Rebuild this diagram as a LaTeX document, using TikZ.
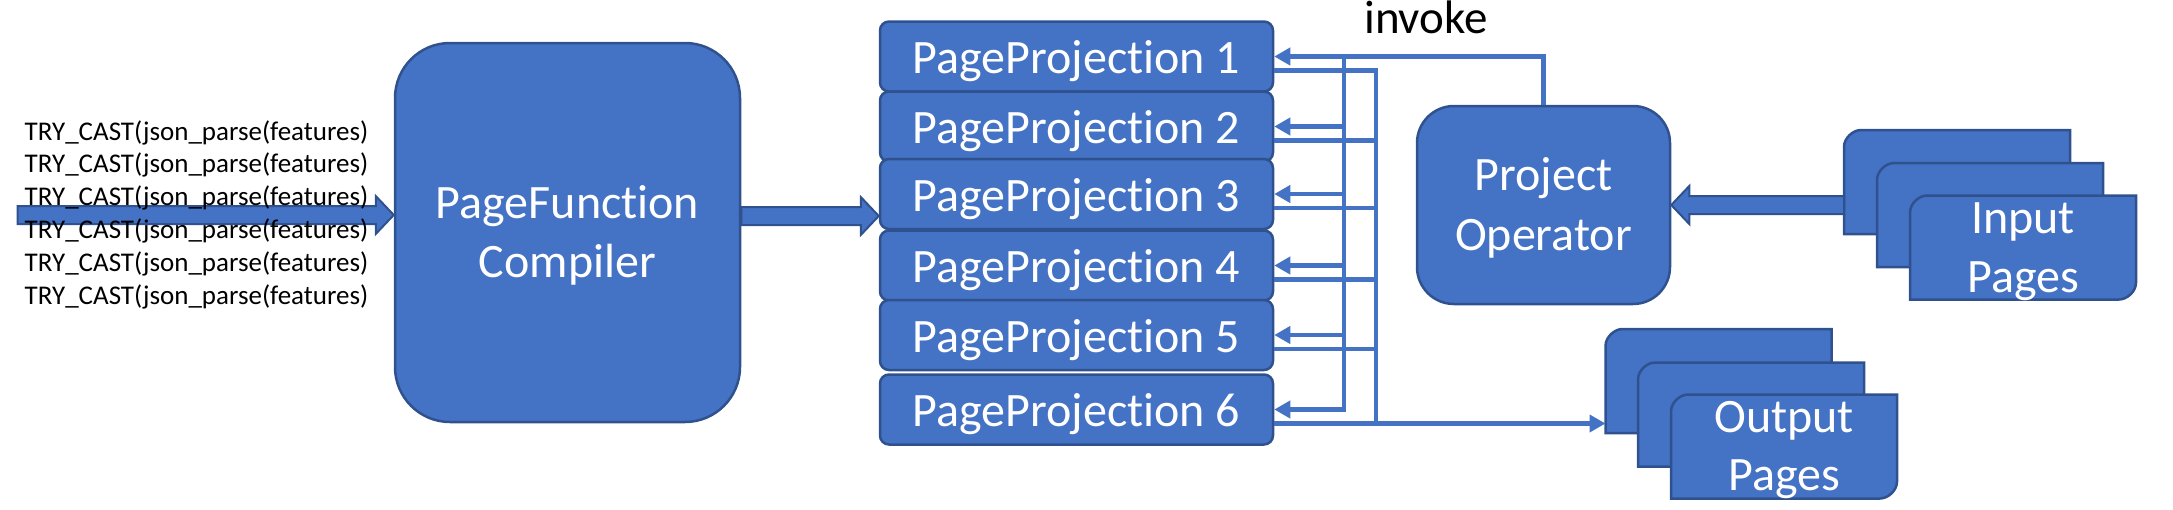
\documentclass[tikz,border=0pt]{standalone}
\usepackage{fontspec}
\setmainfont{Carlito}[Ligatures={NoCommon}]
\usetikzlibrary{arrows.meta,calc}
\definecolor{ofblue}{HTML}{4472C4}
\definecolor{ofdark}{HTML}{2F528F}
% block arrow pointing right: #1 tail, #2 tip
\newcommand\barrowR[2]{%
  \filldraw[barrow] let \p1=#1, \p2=#2 in
    (\x1,\y2+9pt) -- (\x2-18pt,\y2+9pt) -- (\x2-18pt,\y2+19pt) -- (\x2,\y2)
    -- (\x2-18pt,\y2-19pt) -- (\x2-18pt,\y2-9pt) -- (\x1,\y2-9pt) -- cycle;}
% block arrow pointing left: #1 tail, #2 tip
\newcommand\barrowL[2]{%
  \filldraw[barrow] let \p1=#1, \p2=#2 in
    (\x1,\y2+9pt) -- (\x2+18pt,\y2+9pt) -- (\x2+18pt,\y2+19pt) -- (\x2,\y2)
    -- (\x2+18pt,\y2-19pt) -- (\x2+18pt,\y2-9pt) -- (\x1,\y2-9pt) -- cycle;}
% page shape with diagonal rounded corners on node #1
\newcommand\diagpage[1]{%
  \filldraw[pageshape] let \p1=(#1.north west), \p2=(#1.south east) in
    (\x1,\y1-17pt) .. controls (\x1,\y1-7.6pt) and (\x1+9.4pt,\y1) .. (\x1+17pt,\y1)
    -- (\x2,\y1) -- (\x2,\y2+17pt)
    .. controls (\x2,\y2+7.6pt) and (\x2-9.4pt,\y2) .. (\x2-17pt,\y2)
    -- (\x1,\y2) -- cycle;}
\begin{document}
\begin{tikzpicture}[x=1pt,y=-1pt,
  box/.style={draw=ofdark, fill=ofblue, line width=2.5pt, inner sep=0pt},
  ppbox/.style={box, minimum width=393pt, minimum height=70pt, rounded corners=9pt,
    text=white, font=\fontsize{48}{58}\selectfont, text height=39pt, text depth=5pt},
  bigtxt/.style={text=white, font=\fontsize{48}{58}\selectfont, inner sep=0pt, anchor=base},
  smalltxt/.style={text=black, font=\fontsize{27}{33}\selectfont, inner sep=0pt, anchor=base west},
  conn/.style={draw=ofblue, line width=4.5pt},
  arr/.style={conn, -{Triangle[length=16pt,width=17pt]}},
  barrow/.style={fill=ofblue, draw=ofdark, line width=2pt, line join=miter},
  pagenode/.style={minimum width=226pt, minimum height=104pt, inner sep=0pt, outer sep=0pt},
  pageshape/.style={fill=ofblue, draw=ofdark, line width=2.5pt}
]
\useasboundingbox (0,0) rectangle (2173,509);

% compiler
\node[box, minimum width=345pt, minimum height=379pt, rounded corners=55pt] (comp) at (567.5,232.5) {};
\node[bigtxt] (comptxt1) at (567.5,218) {PageFunction};
\node[bigtxt] (comptxt2) at (567.5,277) {Compiler};

% input block arrow and expressions
\coordinate (c0) at (17.5,215);
\barrowR{(c0)}{(comp.west |- c0)}
\foreach \k in {0,...,5}{
  \node[smalltxt] (t\k) at (24.5,140+32.8*\k) {TRY\_CAST(json\_parse(features)};
}

% page projections
\node[ppbox] (pp1) at (1076.5,56.5) {PageProjection 1};
\node[ppbox] (pp2) at (1076.5,126.5) {PageProjection 2};
\node[ppbox] (pp3) at (1076.5,194) {PageProjection 3};
\node[ppbox] (pp4) at (1076.5,265.5) {PageProjection 4};
\node[ppbox] (pp5) at (1076.5,335) {PageProjection 5};
\node[ppbox] (pp6) at (1076.5,409.5) {PageProjection 6};

% compiler -> PP3
\coordinate (c1) at (800,216);
\barrowR{(comp.east |- c1)}{(pp3.west |- c1)}

% project operator
\node[box, minimum width=253pt, minimum height=198pt, rounded corners=37pt] (po) at (1543.5,205) {};
\node[bigtxt] (potxt1) at (1543.5,190) {Project};
\node[bigtxt] (potxt2) at (1543.5,250) {Operator};

% input pages
\node[pagenode] (inback) at (1957,182) {};
\node[pagenode] (inmid) at (1990,215) {};
\node[pagenode] (infront) at (2023,247.5) {};
\diagpage{inback}
\diagpage{inmid}
\diagpage{infront}
\node[bigtxt] (intxt1) at (2023,233) {Input};
\node[bigtxt] (intxt2) at (2023,292) {Pages};

% output pages
\node[pagenode] (outback) at (1718.5,381) {};
\node[pagenode] (outmid) at (1751,414.5) {};
\node[pagenode] (outfront) at (1784,446.5) {};
\diagpage{outback}
\diagpage{outmid}
\diagpage{outfront}
\node[bigtxt] (outtxt1) at (1784,432) {Output};
\node[bigtxt] (outtxt2) at (1784,490) {Pages};

% input pages -> project operator
\barrowL{(inback.west |- po.east)}{(po.east)}

% invoke connectors
\node[font=\fontsize{47}{56}\selectfont, inner sep=0pt, anchor=base] (invoke) at (1426,33) {invoke};
\coordinate (v1) at (1344,0);
\coordinate (v2) at (1376,0);
\draw[arr] (po.north) |- (pp1.east);
\draw[conn, line cap=rect] (v1 |- pp1.east) -- (v1 |- pp6.east);
\foreach \i in {2,...,6}{
  \draw[arr] (v1 |- pp\i.east) -- (pp\i.east);
}
% output connectors
\foreach \i in {1,...,6}{
  \coordinate (o\i) at ([yshift=-14pt]pp\i.east);
}
\foreach \i in {1,...,5}{
  \draw[conn] (o\i) -- (v2 |- o\i);
}
\draw[conn, line cap=rect] (v2 |- o1) -- (v2 |- o6);
\draw[arr] (o6) -- (outback.west |- o6);
\end{tikzpicture}
\end{document}
